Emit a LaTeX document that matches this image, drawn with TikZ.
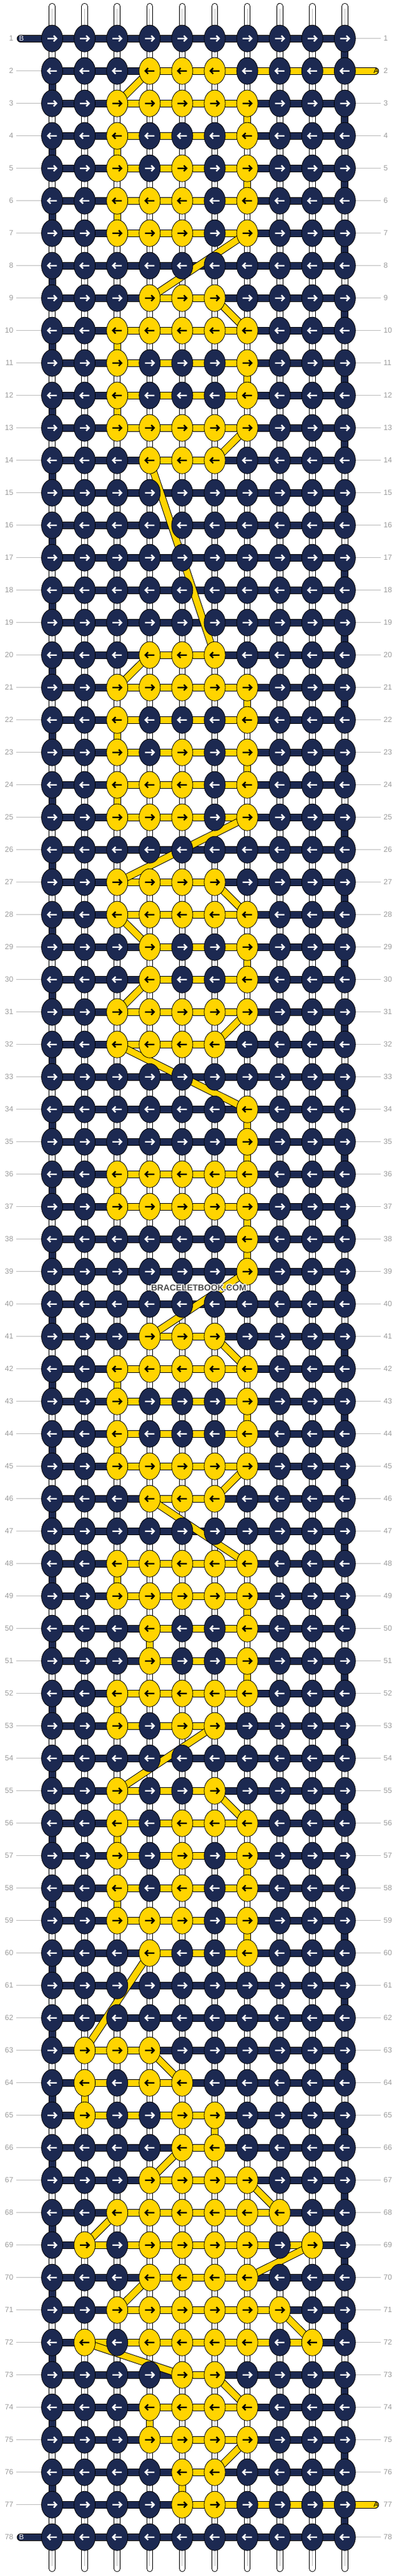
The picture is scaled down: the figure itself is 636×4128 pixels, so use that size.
\documentclass[tikz,border=0pt]{standalone}
\usepackage{fontspec}
\setmainfont{Liberation Sans}
\usetikzlibrary{shapes.geometric}
\definecolor{myNavy}{HTML}{1C2951}
\definecolor{myGold}{HTML}{FFD400}
\definecolor{lblgray}{HTML}{9A9A9A}
\definecolor{linegray}{HTML}{BDBDBD}
\tikzset{
  knot/.style={ellipse, draw=black, line width=0.8pt, minimum width=34pt, minimum height=43pt, inner sep=0pt},
  arrowline/.style={line width=2.4pt, line cap=butt, line join=miter},
  wstr/.style={draw=white, line width=8.6pt, line cap=round, preaction={draw=black, line width=10.6pt, line cap=round}, postaction={draw=linegray, line width=1pt, line cap=butt, shorten <=4pt, shorten >=4pt}},
  bstr/.style={draw=myNavy, line width=10pt, line cap=round, line join=round, preaction={draw=black, line width=12pt, line cap=round, line join=round}},
  astr/.style={draw=myGold, line width=10pt, line cap=round, line join=round, preaction={draw=black, line width=12pt, line cap=round, line join=round}},
  lbl/.style={text=lblgray, font=\fontsize{12}{12}\selectfont, inner sep=0pt, text depth=0pt},
  gline/.style={draw=linegray, line width=1pt},
  tail/.style={font=\fontsize{11.5}{11.5}\selectfont, inner sep=0pt, text depth=0pt},
  wm/.style={font=\bfseries\fontsize{13.8}{13.8}\selectfont, inner sep=0pt}
}
\begin{document}
\begin{tikzpicture}[x=1pt,y=-1pt]
\useasboundingbox (0,0) rectangle (636,4128);

% grid coordinates
\foreach \r in {1,...,78}{
  \pgfmathsetmacro\yy{61.7+52*(\r-1)}
  \foreach \c in {1,...,10}{
    \pgfmathsetmacro\xx{83.5+52.1*(\c-1)}
    \coordinate (p-\r-\c) at (\xx,\yy);
  }
  \coordinate (L-\r) at (33,\yy);
  \coordinate (R-\r) at (601,\yy);
}
\foreach \c in {1,...,10}{
  \pgfmathsetmacro\xx{83.5+52.1*(\c-1)}
  \coordinate (top-\c) at (\xx,10.2);
  \coordinate (bot-\c) at (\xx,4116.2);
}

% white base strings
\foreach \c in {1,...,10}{
  \draw[wstr] (top-\c) -- (bot-\c);
}

% string B (navy)
\draw[bstr] (L-1) \foreach \r [evaluate=\r as \s using {int(\r+1)}] in {1,3,...,77} { -- (p-\r-1) -- (p-\r-10) -- (p-\s-10) -- (p-\s-1) } -- (L-78);

% string A (yellow): horizontal runs
\draw[astr] (R-2) -- (p-2-4);
\foreach \r/\a/\b in {3/3/7,4/7/3,5/3/7,6/7/3,7/3/7,9/4/6,10/7/3,11/3/7,12/7/3,13/3/7,14/6/4,20/6/4,21/3/7,22/7/3,23/3/7,24/7/3,25/3/7,27/3/6,28/7/3,29/4/7,30/7/4,31/3/7,32/6/3,36/7/3,37/3/7,41/4/6,42/7/3,43/3/7,44/7/3,45/3/7,46/6/4,48/7/3,49/3/7,50/7/4,51/4/7,52/7/3,53/3/6,55/3/6,56/7/3,57/3/7,58/7/3,59/3/7,60/7/4,63/2/4,64/5/2,65/2/6,66/6/5,67/4/7,68/8/3,69/2/9,70/7/4,71/3/8,72/9/2,73/5/6,74/7/4,75/4/7,76/6/5}{
  \draw[astr] (p-\r-\a) -- (p-\r-\b);
}
\draw[astr] (p-77-5) -- (R-77);
% string A: links between rows
\foreach \r/\a/\s/\b in {2/4/3/3,3/7/4/7,4/3/5/3,5/7/6/7,6/3/7/3,7/7/9/4,9/6/10/7,10/3/11/3,11/7/12/7,12/3/13/3,13/7/14/6,14/4/20/6,20/4/21/3,21/7/22/7,22/3/23/3,23/7/24/7,24/3/25/3,25/7/27/3,27/6/28/7,28/3/29/4,29/7/30/7,30/4/31/3,31/7/32/6,32/3/34/7,34/7/35/7,35/7/36/7,36/3/37/3,37/7/38/7,38/7/39/7,39/7/41/4,41/6/42/7,42/3/43/3,43/7/44/7,44/3/45/3,45/7/46/6,46/4/48/7,48/3/49/3,49/7/50/7,50/4/51/4,51/7/52/7,52/3/53/3,53/6/55/3,55/6/56/7,56/3/57/3,57/7/58/7,58/3/59/3,59/7/60/7,60/4/63/2,63/4/64/5,64/2/65/2,65/6/66/6,66/5/67/4,67/7/68/8,68/3/69/2,69/9/70/7,70/4/71/3,71/8/72/9,72/2/73/5,73/6/74/7,74/4/75/4,75/7/76/6,76/5/77/5}{
  \draw[astr] (p-\r-\a) -- (p-\s-\b);
}

% tail letters
\node[tail, text=white] (tb1) at (34.5,61.7) {B};
\node[tail, text=white] (tb78) at (34.5,4065.7) {B};
\node[tail, text=black] (ta2) at (602.5,113.7) {A};
\node[tail, text=black] (ta77) at (602.5,4013.7) {A};

% knots
\foreach \row [count=\r] in {
{0,0,0,0,0,0,0,0,0,0},
{0,0,0,1,1,1,0,0,0,0},
{0,0,1,1,1,1,1,0,0,0},
{0,0,1,0,0,0,1,0,0,0},
{0,0,1,0,1,0,1,0,0,0},
{0,0,1,1,1,0,1,0,0,0},
{0,0,1,1,1,0,1,0,0,0},
{0,0,0,0,0,0,0,0,0,0},
{0,0,0,1,1,1,0,0,0,0},
{0,0,1,1,1,1,1,0,0,0},
{0,0,1,0,0,0,1,0,0,0},
{0,0,1,0,0,0,1,0,0,0},
{0,0,1,1,1,1,1,0,0,0},
{0,0,0,1,1,1,0,0,0,0},
{0,0,0,0,0,0,0,0,0,0},
{0,0,0,0,0,0,0,0,0,0},
{0,0,0,0,0,0,0,0,0,0},
{0,0,0,0,0,0,0,0,0,0},
{0,0,0,0,0,0,0,0,0,0},
{0,0,0,1,1,1,0,0,0,0},
{0,0,1,1,1,1,1,0,0,0},
{0,0,1,0,0,0,1,0,0,0},
{0,0,1,0,1,0,1,0,0,0},
{0,0,1,1,1,0,1,0,0,0},
{0,0,1,1,1,0,1,0,0,0},
{0,0,0,0,0,0,0,0,0,0},
{0,0,1,1,1,1,0,0,0,0},
{0,0,1,1,1,1,1,0,0,0},
{0,0,0,1,0,0,1,0,0,0},
{0,0,0,1,0,0,1,0,0,0},
{0,0,1,1,1,1,1,0,0,0},
{0,0,1,1,1,1,0,0,0,0},
{0,0,0,0,0,0,0,0,0,0},
{0,0,0,0,0,0,1,0,0,0},
{0,0,0,0,0,0,1,0,0,0},
{0,0,1,1,1,1,1,0,0,0},
{0,0,1,1,1,1,1,0,0,0},
{0,0,0,0,0,0,1,0,0,0},
{0,0,0,0,0,0,1,0,0,0},
{0,0,0,0,0,0,0,0,0,0},
{0,0,0,1,1,1,0,0,0,0},
{0,0,1,1,1,1,1,0,0,0},
{0,0,1,0,0,0,1,0,0,0},
{0,0,1,0,0,0,1,0,0,0},
{0,0,1,1,1,1,1,0,0,0},
{0,0,0,1,1,1,0,0,0,0},
{0,0,0,0,0,0,0,0,0,0},
{0,0,1,1,1,1,1,0,0,0},
{0,0,1,1,1,1,1,0,0,0},
{0,0,0,1,0,0,1,0,0,0},
{0,0,0,1,0,0,1,0,0,0},
{0,0,1,1,1,1,1,0,0,0},
{0,0,1,0,1,1,0,0,0,0},
{0,0,0,0,0,0,0,0,0,0},
{0,0,1,0,0,1,0,0,0,0},
{0,0,1,0,1,1,1,0,0,0},
{0,0,1,0,1,0,1,0,0,0},
{0,0,1,0,1,0,1,0,0,0},
{0,0,1,1,1,0,1,0,0,0},
{0,0,0,1,0,0,1,0,0,0},
{0,0,0,0,0,0,0,0,0,0},
{0,0,0,0,0,0,0,0,0,0},
{0,1,1,1,0,0,0,0,0,0},
{0,1,0,1,1,0,0,0,0,0},
{0,1,0,0,1,1,0,0,0,0},
{0,0,0,0,1,1,0,0,0,0},
{0,0,0,1,1,1,1,0,0,0},
{0,0,1,1,1,1,1,1,0,0},
{0,1,0,1,1,1,1,0,1,0},
{0,0,0,1,1,1,1,0,0,0},
{0,0,1,1,1,1,1,1,0,0},
{0,1,0,1,1,1,1,0,1,0},
{0,0,0,0,1,1,0,0,0,0},
{0,0,0,1,1,1,1,0,0,0},
{0,0,0,1,1,1,1,0,0,0},
{0,0,0,0,1,1,0,0,0,0},
{0,0,0,0,1,1,0,0,0,0},
{0,0,0,0,0,0,0,0,0,0}}{
  \foreach \v [count=\c] in \row {
    \ifnum\v=1 \def\kf{myGold}\def\ka{black}\else \def\kf{myNavy}\def\ka{white}\fi
    \ifodd\r \def\xs{1}\else \def\xs{-1}\fi
    \node[knot, fill=\kf] (k-\r-\c) at (p-\r-\c) {};
    \draw[arrowline, draw=\ka, shift={(p-\r-\c)}, xscale=\xs] (-7.5,0) -- (6.5,0) (2.5,-4.6) -- (7,0) -- (2.5,4.6);
  }
}

% row numbers and guide lines
\foreach \r in {1,...,78}{
  \pgfmathsetmacro\yy{61.7+52*(\r-1)}
  \node[lbl, anchor=east] (ll-\r) at (21.5,\yy) {\r};
  \node[lbl, anchor=west] (rl-\r) at (614.5,\yy) {\r};
  \ifnum\r=1 \else\ifnum\r=78 \else
    \draw[gline] (ll-\r.east) ++(4.5,0) -- (k-\r-1.west);
  \fi\fi
  \ifnum\r=2 \else\ifnum\r=77 \else
    \draw[gline] (k-\r-10.east) -- ([xshift=-4.5pt]rl-\r.west);
  \fi\fi
}

% watermark
\foreach \dx/\dy in {-1/-1,-1/0,-1/1,0/-1,0/1,1/-1,1/0,1/1}{
  \node[wm, text=white] at (318.3+\dx,2063.7+\dy) {BRACELETBOOK.COM};
}
\node[wm, text=black!70] (wmark) at (318.3,2063.7) {BRACELETBOOK.COM};
\end{tikzpicture}
\end{document}
